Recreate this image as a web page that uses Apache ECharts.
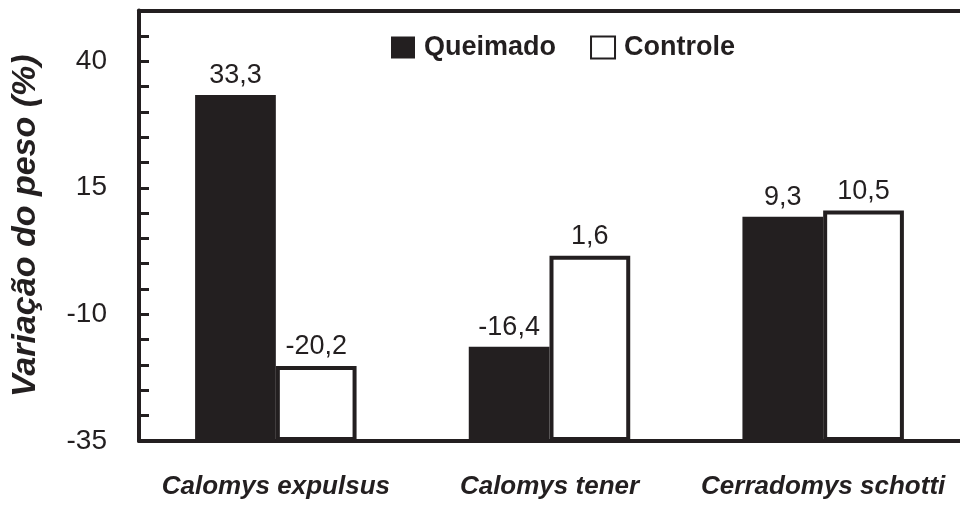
<!DOCTYPE html>
<html>
<head>
<meta charset="utf-8">
<script src="https://cdn.jsdelivr.net/npm/echarts@6/dist/echarts.min.js"></script>
<style>
  html, body { margin: 0; padding: 0; background: #fff; }
  #chart { width: 960px; height: 508px; }
</style>
</head>
<body>
<div id="chart"></div>
<script>
var especies = ['Calomys expulsus', 'Calomys tener', 'Cerradomys schotti'];
var queimado = [33.3, -16.4, 9.3];
var controle = [-20.2, 1.6, 10.5];
var rotulosY = [-35, -10, 15, 40];

var preto = '#231f20';
var dom = document.getElementById('chart');
var myChart = echarts.init(dom, null, { renderer: 'canvas' });

// rótulo com vírgula decimal
function virgula(p) {
    return String(p.value).replace('.', ',');
}

var option = {
    backgroundColor: '#fff',
    animation: false,
    textStyle: { fontFamily: 'Liberation Sans', color: preto },
    legend: {
        left: 386,
        top: 29,
        icon: 'rect',
        itemWidth: 24,
        itemHeight: 22,
        itemGap: 34,
        textStyle: { fontFamily: 'Liberation Sans', fontWeight: 'bold', fontSize: 27, color: preto, padding: [0, 0, 0, 4] },
        data: ['Queimado', 'Controle']
    },
    grid: {
        left: 139,
        right: 0,
        top: 10.5,
        bottom: 67
    },
    xAxis: [
        {
            type: 'category',
            data: especies,
            axisTick: { show: false },
            axisLine: { onZero: false, lineStyle: { color: preto, width: 4 } },
            axisLabel: {
                interval: 0,
                margin: 33,
                fontFamily: 'Liberation Sans',
                fontWeight: 'bold',
                fontStyle: 'italic',
                fontSize: 26,
                color: preto
            }
        },
        {
            // linha superior da moldura
            type: 'category',
            position: 'top',
            data: especies,
            axisTick: { show: false },
            axisLabel: { show: false },
            axisLine: { onZero: false, lineStyle: { color: preto, width: 4 } }
        }
    ],
    yAxis: {
        type: 'value',
        min: -35,
        max: 50,
        interval: 5,
        startValue: -35,
        name: 'Variação do peso (%)',
        nameLocation: 'middle',
        nameGap: 96,
        nameTextStyle: {
            fontFamily: 'Liberation Sans',
            fontWeight: 'bold',
            fontStyle: 'italic',
            fontSize: 34,
            color: preto
        },
        splitLine: { show: false },
        axisLine: { show: true, onZero: false, lineStyle: { color: preto, width: 4 } },
        axisTick: { show: true, inside: true, length: 10, lineStyle: { color: preto, width: 3 } },
        axisLabel: {
            margin: 32,
            fontSize: 28,
            color: preto,
            formatter: function (v) {
                return rotulosY.indexOf(v) >= 0 ? String(v) : '';
            }
        }
    },
    series: [
        {
            name: 'Queimado',
            type: 'bar',
            data: queimado,
            barGap: 0,
            barCategoryGap: '41%',
            itemStyle: { color: preto },
            label: { show: true, position: 'top', distance: 6, fontSize: 27, color: preto, formatter: virgula }
        },
        {
            name: 'Controle',
            type: 'bar',
            data: controle,
            barGap: 0,
            barCategoryGap: '41%',
            itemStyle: { color: '#fff', borderColor: preto, borderWidth: 4 },
            label: { show: true, position: 'top', distance: 6, fontSize: 27, color: preto, formatter: virgula }
        }
    ]
};

myChart.setOption(option);
window.addEventListener('resize', myChart.resize);
</script>
</body>
</html>
